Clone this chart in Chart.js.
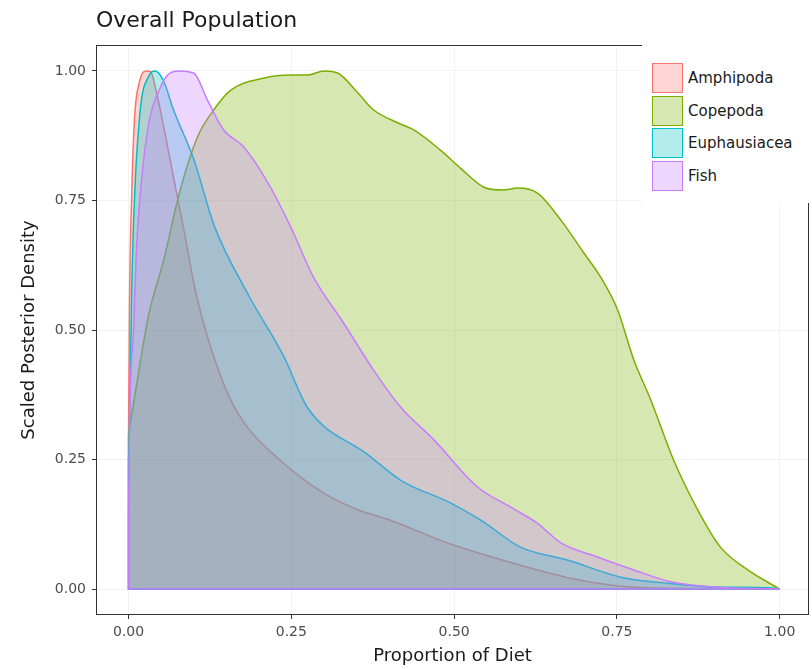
<!DOCTYPE html>
<html>
<head>
<meta charset="utf-8">
<script src="https://cdn.jsdelivr.net/npm/chart.js@4.4.1/dist/chart.umd.min.js"></script>
<style>
    body { margin: 0; background: #fff; }
    .wrap { position: relative; width: 812px; height: 669px; }
    .legend {
        position: absolute;
        left: 642px;
        top: 40px;
        width: 170px;
        height: 163px;
        background: #fff;
        box-sizing: border-box;
        padding: 22px 0 0 10px;
        font-family: 'DejaVu Sans', sans-serif;
        font-size: 15px;
        color: #1a1a1a;
    }
    .legend-item { display: flex; align-items: center; height: 32.5px; }
    .legend-swatch { width: 31px; height: 30px; box-sizing: border-box; border: 1.5px solid; }
    .legend-label { margin-left: 5px; }
</style>
</head>
<body>
<div class="wrap">
    <canvas id="densityChart" width="812" height="669"></canvas>
    <div class="legend" id="legend"></div>
</div>
<script>
const categories = ['Amphipoda', 'Copepoda', 'Euphausiacea', 'Fish'];
const colors = ['#F8766D', '#7CAE00', '#00BFC4', '#C77CFF'];

const amphipodaX = [0, 0.0015, 0.0046, 0.009, 0.017, 0.028, 0.034, 0.043, 0.054, 0.069, 0.084, 0.104, 0.124, 0.155, 0.181, 0.227, 0.300, 0.352, 0.402, 0.490, 0.591, 0.694, 0.771, 0.88, 1.0];
const amphipodaY = [0.30, 0.56, 0.75, 0.905, 0.98, 1.0, 0.998, 0.958, 0.892, 0.795, 0.699, 0.568, 0.475, 0.37, 0.315, 0.255, 0.185, 0.153, 0.133, 0.089, 0.050, 0.017, 0.004, 0.001, 0];

const copepodaX = [0, 0.017, 0.031, 0.054, 0.078, 0.106, 0.131, 0.157, 0.207, 0.249, 0.275, 0.300, 0.321, 0.352, 0.376, 0.413, 0.438, 0.479, 0.510, 0.545, 0.575, 0.598, 0.628, 0.664, 0.699, 0.725, 0.751, 0.776, 0.802, 0.837, 0.874, 0.909, 0.951, 1.0];
const copepodaY = [0.30, 0.43, 0.53, 0.635, 0.764, 0.873, 0.925, 0.963, 0.986, 0.992, 0.992, 1.0, 0.996, 0.958, 0.925, 0.90, 0.886, 0.847, 0.812, 0.776, 0.770, 0.774, 0.764, 0.712, 0.649, 0.602, 0.539, 0.442, 0.365, 0.249, 0.153, 0.081, 0.037, 0];

const euphausiaceaX = [0, 0.0015, 0.0046, 0.009, 0.018, 0.031, 0.041, 0.054, 0.069, 0.100, 0.132, 0.183, 0.238, 0.275, 0.367, 0.418, 0.495, 0.541, 0.602, 0.674, 0.756, 0.822, 0.899, 0.99, 1.0];
const euphausiaceaY = [0.25, 0.31, 0.56, 0.75, 0.925, 0.99, 1.0, 0.98, 0.925, 0.83, 0.70, 0.57, 0.45, 0.35, 0.26, 0.21, 0.166, 0.133, 0.081, 0.056, 0.023, 0.012, 0.004, 0.002, 0];

const fishX = [0, 0.0015, 0.0077, 0.012, 0.020, 0.032, 0.045, 0.060, 0.077, 0.100, 0.121, 0.146, 0.177, 0.214, 0.249, 0.284, 0.330, 0.376, 0.418, 0.469, 0.536, 0.587, 0.628, 0.664, 0.720, 0.776, 0.833, 0.899, 1.0];
const fishY = [0.15, 0.326, 0.50, 0.654, 0.79, 0.905, 0.957, 0.992, 1.0, 0.996, 0.944, 0.886, 0.853, 0.784, 0.699, 0.602, 0.514, 0.423, 0.351, 0.288, 0.197, 0.158, 0.127, 0.089, 0.062, 0.037, 0.014, 0.004, 0];

const xTicks = [0, 0.25, 0.5, 0.75, 1];
const yTicks = [0, 0.25, 0.5, 0.75, 1];

const seriesX = [amphipodaX, copepodaX, euphausiaceaX, fishX];
const seriesY = [amphipodaY, copepodaY, euphausiaceaY, fishY];

const FILL_ALPHA = 0.3;
const font = "'DejaVu Sans', sans-serif";

function withAlpha(hex, a) {
    const n = parseInt(hex.slice(1), 16);
    return `rgba(${(n >> 16) & 255}, ${(n >> 8) & 255}, ${n & 255}, ${a})`;
}

const datasets = categories.map((name, i) => ({
    label: name,
    data: seriesX[i].map((x, k) => ({ x: x, y: seriesY[i][k] })),
    borderColor: colors[i],
    backgroundColor: withAlpha(colors[i], FILL_ALPHA),
    borderWidth: 1.5,
    fill: 'origin',
    pointRadius: 0,
    cubicInterpolationMode: 'monotone',
    // first category drawn at the bottom, last on top
    order: categories.length - 1 - i
}));

// outline the left edge and baseline of each density polygon
const densityEdges = {
    id: 'densityEdges',
    afterDatasetDraw(chart, args) {
        const pts = args.meta.data;
        if (!pts.length) return;
        const { ctx, chartArea } = chart;
        const base = chart.scales.y.getPixelForValue(0);
        const first = pts[0];
        const last = pts[pts.length - 1];
        ctx.save();
        ctx.beginPath();
        ctx.rect(chartArea.left, chartArea.top, chartArea.right - chartArea.left, chartArea.bottom - chartArea.top);
        ctx.clip();
        ctx.strokeStyle = colors[args.index];
        ctx.lineWidth = 1.5;
        ctx.beginPath();
        ctx.moveTo(first.x, first.y);
        ctx.lineTo(first.x, base);
        ctx.lineTo(last.x, base);
        ctx.stroke();
        ctx.restore();
    }
};

const panelFrame = {
    id: 'panelFrame',
    afterDraw(chart) {
        const { ctx, chartArea } = chart;
        ctx.save();
        ctx.strokeStyle = '#333';
        ctx.lineWidth = 1;
        ctx.strokeRect(chartArea.left + 0.5, chartArea.top + 0.5,
            chartArea.right - chartArea.left - 1, chartArea.bottom - chartArea.top - 1);

        ctx.fillStyle = '#1a1a1a';
        ctx.font = `22px ${font}`;
        ctx.textAlign = 'left';
        ctx.textBaseline = 'alphabetic';
        ctx.fillText('Overall Population', chartArea.left, 27);
        ctx.restore();
    }
};

function fixedTicks(values) {
    return scale => { scale.ticks = values.map(v => ({ value: v })); };
}

new Chart(document.getElementById('densityChart'), {
    type: 'line',
    data: { datasets: datasets },
    plugins: [densityEdges, panelFrame],
    options: {
        responsive: false,
        animation: false,
        layout: { padding: { top: 45, right: 3, bottom: 0, left: 0 } },
        plugins: {
            legend: { display: false },
            tooltip: { enabled: false },
            title: { display: false }
        },
        scales: {
            x: {
                type: 'linear',
                min: -0.05,
                max: 1.045,
                afterBuildTicks: fixedTicks(xTicks),
                afterFit: scale => { scale.height = 54; },
                grid: { color: '#f2f2f2', tickColor: '#333', tickLength: 4 },
                border: { display: false },
                ticks: {
                    autoSkip: false,
                    maxRotation: 0,
                    padding: 5,
                    color: '#4d4d4d',
                    font: { family: font, size: 14 },
                    callback: v => v.toFixed(2)
                },
                title: {
                    display: true,
                    text: 'Proportion of Diet',
                    color: '#1a1a1a',
                    font: { family: font, size: 18 },
                    padding: { top: 0, bottom: 2 }
                }
            },
            y: {
                min: -0.05,
                max: 1.05,
                afterBuildTicks: fixedTicks(yTicks),
                afterFit: scale => { scale.width = 96; },
                grid: { color: '#f2f2f2', tickColor: '#333', tickLength: 4 },
                border: { display: false },
                ticks: {
                    autoSkip: false,
                    padding: 6,
                    color: '#4d4d4d',
                    font: { family: font, size: 14 },
                    callback: v => v.toFixed(2)
                },
                title: {
                    display: true,
                    text: 'Scaled Posterior Density',
                    color: '#1a1a1a',
                    font: { family: font, size: 18 },
                    padding: { top: 19, bottom: 0 }
                }
            }
        }
    }
});

// legend in the upper right corner of the panel
const legendEl = document.getElementById('legend');
categories.forEach((name, i) => {
    const item = document.createElement('div');
    item.className = 'legend-item';
    item.innerHTML = `
        <div class="legend-swatch" style="border-color:${colors[i]};background:${withAlpha(colors[i], FILL_ALPHA)}"></div>
        <span class="legend-label">${name}</span>
    `;
    legendEl.appendChild(item);
});
</script>
</body>
</html>
